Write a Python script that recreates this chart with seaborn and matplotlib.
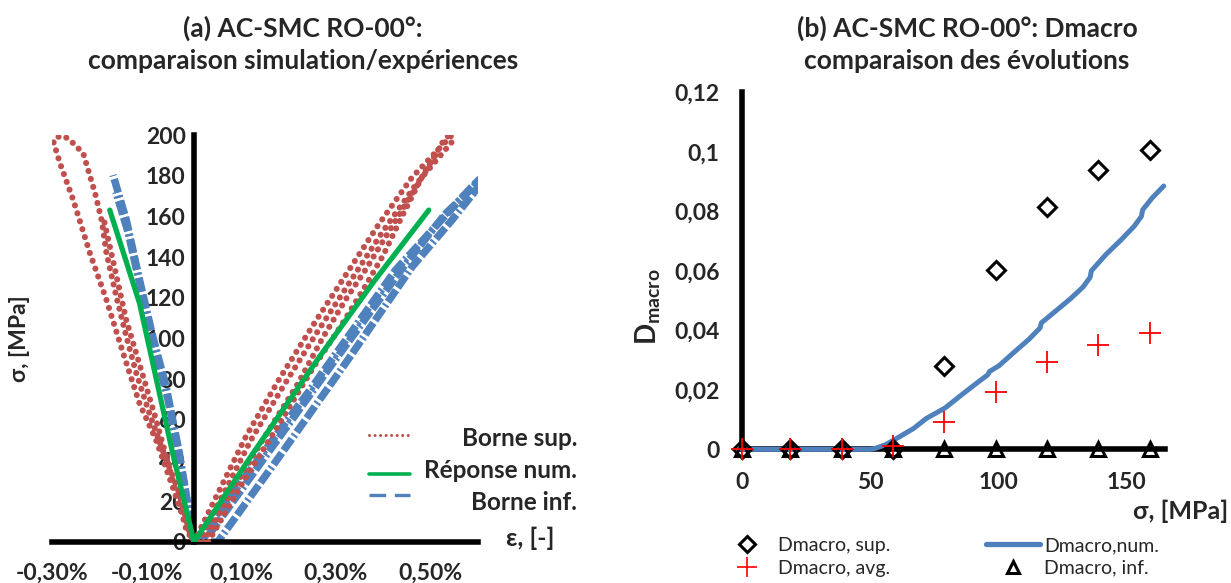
import matplotlib
matplotlib.use("Agg")
import pandas as pd
import matplotlib.pyplot as plt
import seaborn as sns
from matplotlib.lines import Line2D
from matplotlib.ticker import FuncFormatter

sns.set_theme(style="white")
plt.rcParams['font.family'] = ['Lato', 'DejaVu Sans']
plt.rcParams['mathtext.fontset'] = 'custom'
plt.rcParams['mathtext.rm'] = 'Lato:bold'
plt.rcParams['mathtext.it'] = 'Lato:bold'
plt.rcParams['mathtext.bf'] = 'Lato:bold'

RED = '#C0504D'
GREEN = '#00B050'
BLUE = '#4F81BD'

# ---- (a) courbes contrainte / deformation (eps en %, sigma en MPa) ----
# Borne sup. (pointilles rouges)
sup_r1_eps = [0, 0.04, 0.11, 0.18, 0.25, 0.32, 0.39, 0.46, 0.545, 0.57]
sup_r1_sig = [0, 19, 52, 80, 106, 131, 156, 179, 200, 206]
sup_r2_eps = [0.01, 0.05, 0.12, 0.19, 0.26, 0.33, 0.40, 0.47, 0.55]
sup_r2_sig = [0, 18, 50, 77, 103, 128, 153, 176, 198]
sup_r3_eps = [0.02, 0.08, 0.15, 0.22, 0.271, 0.32, 0.363, 0.405, 0.447, 0.489, 0.524, 0.55]
sup_r3_sig = [0, 25, 52, 78, 100, 119, 134, 150, 166, 182, 196, 203]
sup_r4_eps = [0.03, 0.10, 0.18, 0.25, 0.31, 0.36, 0.40, 0.433, 0.461, 0.492, 0.51]
sup_r4_sig = [0, 28, 58, 85, 106, 125, 141, 157, 170, 184, 190]
sup_l1_eps = [0, -0.016, -0.045, -0.080, -0.115, -0.150, -0.185, -0.220, -0.255, -0.283, -0.297,
              -0.290, -0.275, -0.262, -0.234, -0.209, -0.195, -0.185, -0.164, -0.143, -0.122,
              -0.094, -0.066, -0.031, -0.009, 0]
sup_l1_sig = [0, 7.5, 27, 50, 68, 93, 119, 142, 168, 186, 196.7,
              199, 199.5, 197.5, 191, 171.4, 158, 142, 120.5, 101, 83,
              63, 45, 24, 4.3, 0]
sup_l2_eps = [0, -0.016, -0.080, -0.143, -0.192]
sup_l2_sig = [0, 5.9, 60, 109, 160]

# Reponse num. (trait vert)
num_r_eps = [0, 0.12, 0.265, 0.38, 0.496]
num_r_sig = [0, 42, 91, 128, 163.1]
num_l_eps = [0, -0.045, -0.115, -0.178]
num_l_sig = [0, 43.6, 117.3, 163.1]

# Borne inf. (tirets bleus)
inf_r1_eps = [0, 0.04, 0.25, 0.426, 0.587, 0.62]
inf_r1_sig = [0, 10.8, 76.3, 133.7, 174.6, 182]
inf_r2_eps = [0, 0.03, 0.16, 0.30, 0.445, 0.53, 0.61]
inf_r2_sig = [0, 3, 45, 90, 136, 161, 179]
inf_r3_eps = [0, 0.05, 0.18, 0.32, 0.461, 0.545, 0.62]
inf_r3_sig = [0, 0, 41.9, 87.8, 135.3, 158.2, 180]
inf_l1_eps = [0, -0.031, -0.059, -0.087, -0.115, -0.143, -0.171]
inf_l1_sig = [0, 43.7, 76.3, 100.9, 128.7, 158.2, 180.3]
inf_l2_eps = [0, -0.028, -0.055, -0.083, -0.111, -0.139, -0.165]
inf_l2_sig = [0, 38, 70, 95, 123, 152, 172]

# ---- (b) evolution de Dmacro ----
sig_pts = [0, 19, 39, 59, 79, 99, 119, 139, 159]
d_sup = [0, 0, 0, 0, 0.0279, 0.0602, 0.0813, 0.0940, 0.1007]
d_avg = [0, 0, 0, 0.001, 0.0091, 0.0192, 0.0294, 0.0350, 0.0391]
d_inf = [0, 0, 0, 0, 0, 0, 0, 0, 0]
num_sig = [0, 50, 52, 56, 61.5, 67, 72, 79.3, 86, 92, 96, 96.5, 100.3, 106, 112, 116.3, 116.8,
           122, 128, 133, 135.8, 136.3, 142, 148, 153, 155.8, 156.3, 160, 164.5]
num_d = [0, 0, 0.0003, 0.0015, 0.0042, 0.007, 0.0104, 0.0139, 0.0185, 0.0225, 0.0251, 0.0261,
         0.0281, 0.0325, 0.037, 0.0408, 0.0425, 0.0462, 0.0505, 0.0545, 0.0578, 0.0600, 0.0655,
         0.0705, 0.075, 0.0783, 0.0805, 0.0845, 0.0885]


def curves(*pairs):
    frames = []
    for i, (e, s) in enumerate(pairs):
        frames.append(pd.DataFrame({"eps": e, "sig": s, "curve": i}))
    return pd.concat(frames, ignore_index=True)


df_sup = curves((sup_r1_eps, sup_r1_sig), (sup_r2_eps, sup_r2_sig), (sup_r3_eps, sup_r3_sig),
                (sup_r4_eps, sup_r4_sig), (sup_l1_eps, sup_l1_sig), (sup_l2_eps, sup_l2_sig))
df_num = curves((num_r_eps, num_r_sig), (num_l_eps, num_l_sig))
df_inf = curves((inf_r1_eps, inf_r1_sig), (inf_r2_eps, inf_r2_sig), (inf_r3_eps, inf_r3_sig),
                (inf_l1_eps, inf_l1_sig), (inf_l2_eps, inf_l2_sig))

W, H = 1231, 583
fig = plt.figure(figsize=(W / 100, H / 100), dpi=100)


def fx(x):
    return x / W


def fy(y):
    return 1 - y / H


dotted = (0, (0.01, 1.35))
dashdot = (0, (1.9, 0.4, 1.9, 0.4, 0.3, 0.4))

# ================= (a) =================
ax1 = fig.add_axes([fx(52), fy(542), fx(478 - 52), (542 - 135) / H])
sns.lineplot(data=df_inf, x="eps", y="sig", units="curve", estimator=None, sort=False,
             color=BLUE, linewidth=5.4, linestyle=dashdot, dash_capstyle='butt', ax=ax1, zorder=2)
sns.lineplot(data=df_sup, x="eps", y="sig", units="curve", estimator=None, sort=False,
             color=RED, linewidth=4.4, linestyle=dotted, dash_capstyle='round', ax=ax1, zorder=3)
sns.lineplot(data=df_num, x="eps", y="sig", units="curve", estimator=None, sort=False,
             color=GREEN, linewidth=3.8, ax=ax1, zorder=4)

ax1.set_xlim(-0.3, 0.6)
ax1.set_ylim(0, 200)
ax1.set_xticks([-0.3, -0.1, 0.1, 0.3, 0.5])
ax1.set_yticks(range(0, 201, 20))
ax1.xaxis.set_major_formatter(FuncFormatter(lambda v, p: f"{v:.2f}%".replace('.', ',')))
ax1.yaxis.set_major_formatter(FuncFormatter(lambda v, p: f"{v:g}"))
ax1.spines['left'].set_position(('data', 0))
ax1.spines['top'].set_visible(False)
ax1.spines['right'].set_visible(False)
for s in ['left', 'bottom']:
    ax1.spines[s].set_linewidth(4)
    ax1.spines[s].set_color('black')
ax1.tick_params(axis='y', direction='out', length=5, width=3, pad=1, labelsize=16.5)
ax1.tick_params(axis='x', direction='out', length=5, width=3, pad=10, labelsize=16.5)
for lab in ax1.get_xticklabels() + ax1.get_yticklabels():
    lab.set_fontweight('bold')
ax1.set_xlabel('')
ax1.set_ylabel('σ, [MPa]', fontsize=16.5, fontweight='bold')
ax1.yaxis.set_label_coords(-0.052, 0.5)
ax1.set_facecolor('white')

fig.text(fx(303), fy(28), '(a) AC-SMC RO-00°:', ha='center', va='center',
         fontsize=19, fontweight='bold')
fig.text(fx(303), fy(61), 'comparaison simulation/expériences', ha='center', va='center',
         fontsize=19, fontweight='bold')
fig.text(fx(555), fy(538), 'ε, [-]', ha='right', va='center', fontsize=18, fontweight='bold')

# legende (a) : symboles a gauche, textes alignes a droite
fig.add_artist(Line2D([fx(369), fx(410)], [fy(435), fy(435)], transform=fig.transFigure,
                      color=RED, linewidth=2.2, linestyle=(0, (0.01, 1.8)), dash_capstyle='round'))
fig.add_artist(Line2D([fx(369), fx(410)], [fy(474), fy(474)], transform=fig.transFigure,
                      color=GREEN, linewidth=2.6))
fig.add_artist(Line2D([fx(369), fx(410)], [fy(495), fy(495)], transform=fig.transFigure,
                      color=BLUE, linewidth=2.4, linestyle=(0, (5, 2.6, 5, 2.6, 1, 2.6))))
for txt, yy in [('Borne sup.', 438), ('Réponse num.', 470), ('Borne inf.', 502)]:
    fig.text(fx(577), fy(yy), txt, ha='right', va='center', fontsize=17.5, fontweight='bold')

# ================= (b) =================
ax2 = fig.add_axes([fx(741.7), fy(449.3), fx(1165 - 741.7), (449.3 - 92.3) / H])
sns.lineplot(x=num_sig, y=num_d, estimator=None, sort=False, color=BLUE, linewidth=3.6,
             ax=ax2, zorder=3, clip_on=False)
sns.lineplot(x=sig_pts, y=d_inf, estimator=None, sort=False, linestyle='none', marker='^',
             markersize=10, markerfacecolor='none', markeredgecolor='black', markeredgewidth=2.2,
             ax=ax2, zorder=4, clip_on=False)
sns.lineplot(x=sig_pts, y=d_sup, estimator=None, sort=False, linestyle='none', marker='D',
             markersize=9, markerfacecolor='none', markeredgecolor='black', markeredgewidth=2.2,
             ax=ax2, zorder=5, clip_on=False)
sns.lineplot(x=sig_pts, y=d_avg, estimator=None, sort=False, linestyle='none', marker='+',
             markersize=16, markeredgecolor='red', markeredgewidth=1.3,
             ax=ax2, zorder=6, clip_on=False)

ax2.set_xlim(0, 165)
ax2.set_ylim(0, 0.12)
ax2.set_xticks([0, 50, 100, 150])
ax2.set_yticks([0, 0.02, 0.04, 0.06, 0.08, 0.1, 0.12])
ax2.yaxis.set_major_formatter(FuncFormatter(lambda v, p: f"{v:.2f}".rstrip('0').rstrip('.').replace('.', ',')))
ax2.xaxis.set_major_formatter(FuncFormatter(lambda v, p: f"{v:g}"))
ax2.spines['top'].set_visible(False)
ax2.spines['right'].set_visible(False)
for s in ['left', 'bottom']:
    ax2.spines[s].set_linewidth(4)
    ax2.spines[s].set_color('black')
ax2.tick_params(axis='both', direction='out', length=5, width=3, pad=11, labelsize=16.5)
for lab in ax2.get_xticklabels() + ax2.get_yticklabels():
    lab.set_fontweight('bold')
ax2.set_xlabel('')
ax2.set_ylabel(r'D$_{\mathrm{macro}}$', fontsize=20, fontweight='bold')
ax2.yaxis.set_label_coords(-0.185, 0.40)
ax2.set_facecolor('white')

fig.text(fx(967), fy(28), '(b) AC-SMC RO-00°: Dmacro', ha='center', va='center',
         fontsize=19, fontweight='bold')
fig.text(fx(967), fy(61), 'comparaison des évolutions', ha='center', va='center',
         fontsize=19, fontweight='bold')
fig.text(fx(1228), fy(511), 'σ, [MPa]', ha='right', va='center', fontsize=18, fontweight='bold')

h_sup = Line2D([], [], linestyle='none', marker='D', markersize=8, markerfacecolor='none',
               markeredgecolor='black', markeredgewidth=2.2)
h_avg = Line2D([], [], linestyle='none', marker='+', markersize=14, markeredgecolor='red',
               markeredgewidth=1.2)
h_num = Line2D([], [], color=BLUE, linewidth=3.8)
h_inf = Line2D([], [], linestyle='none', marker='^', markersize=8, markerfacecolor='none',
               markeredgecolor='black', markeredgewidth=2.2)
ax2.legend([h_sup, h_avg, h_num, h_inf],
           ['Dmacro, sup.', 'Dmacro, avg.', 'Dmacro,num.', 'Dmacro, inf.'],
           ncol=2, loc='upper left', bbox_to_anchor=(fx(720), fy(537)),
           bbox_transform=fig.transFigure, frameon=False, fontsize=14,
           handlelength=2.8, handletextpad=0.2, columnspacing=4.9, labelspacing=0.3,
           borderpad=0, borderaxespad=0)

fig.savefig("out.png", dpi=100, facecolor='white')
